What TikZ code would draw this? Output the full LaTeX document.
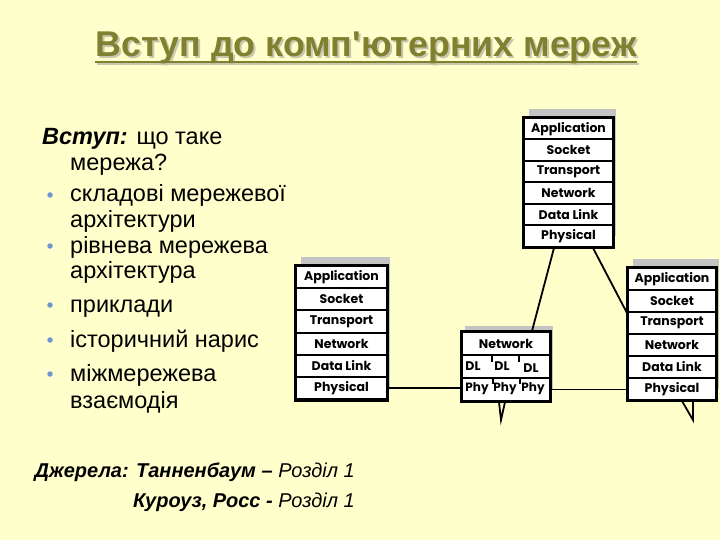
\documentclass[tikz,border=0pt]{standalone}
\usepackage{fontspec}
\setmainfont{Liberation Sans}
\newfontfamily\stackfont{Poppins}
\usetikzlibrary{calc}
\definecolor{bg}{RGB}{255,255,204}
\definecolor{olivetitle}{RGB}{128,128,48}
\definecolor{tshadow}{RGB}{200,200,176}
\definecolor{bul}{RGB}{110,150,210}
\definecolor{stackshadow}{RGB}{196,196,196}
\newcommand\netstack[5]{%
  \fill[stackshadow] (#2+6,#3-8) rectangle (#2+#4+4,#3+6*#5-10);
  \foreach \n/\t [count=\i from 0] in {app/Application,soc/Socket,tra/Transport,net/Network,dl/Data Link,phy/Physical}{
    \node[layer, minimum width=#4, minimum height=#5] (#1-\n) at (#2,#3+\i*#5) {\t};
  }
  \draw[line width=2.6pt] (#1-app.north west) rectangle (#1-phy.south east);
}
\begin{document}
\begin{tikzpicture}[x=1pt,y=-1pt,
  layer/.style={draw=black, line width=2pt, fill=white, rectangle, anchor=north west, inner sep=0pt,
    font=\stackfont\bfseries\fontsize{12.5}{13}\selectfont},
  lbl/.style={inner sep=0pt, font=\stackfont\bfseries\fontsize{12.5}{13}\selectfont},
  conn/.style={draw=black, line width=1.8pt},
  txt/.style={inner sep=0pt, anchor=base west, font=\fontsize{23.5}{25}\selectfont},
  src/.style={inner sep=0pt, anchor=base east, font=\fontsize{20}{22}\selectfont},
  bullet/.style={circle, fill=bul, inner sep=0pt, minimum size=5.5pt},
  tick/.style={draw=black, line width=1.6pt}]
\useasboundingbox (0,0) rectangle (720,540);
\fill[bg] (0,0) rectangle (720,540);

% title
\node[inner sep=0pt, anchor=base, text=tshadow, font=\bfseries\fontsize{35.8}{38}\selectfont] (titlesh) at (368,59) {Вступ до комп\textquotesingle ютерних мереж};
\draw[tshadow, line width=2.5pt] ($(titlesh.base west)+(0,5)$) -- ($(titlesh.base east)+(0,5)$);
\node[inner sep=0pt, anchor=base, text=olivetitle, font=\bfseries\fontsize{35.8}{38}\selectfont] (title) at (366,57) {Вступ до комп\textquotesingle ютерних мереж};
\draw[olivetitle, line width=2.5pt] ($(title.base west)+(0,5)$) -- ($(title.base east)+(0,5)$);

% left text
\node[txt] (l1) at (42,145) {\textbf{\textit{Вступ:}} що таке};
\node[txt] (l2) at (70,171) {мережа?};
\node[bullet] (b1) at (50,195) {};
\node[txt] (l3) at (70,202) {складові мережевої};
\node[txt] (l4) at (70,227) {архітектури};
\node[bullet] (b2) at (50,246) {};
\node[txt] (l5) at (70,253) {рівнева мережева};
\node[txt] (l6) at (70,278) {архітектура};
\node[bullet] (b3) at (50,305) {};
\node[txt] (l7) at (70,312) {приклади};
\node[bullet] (b4) at (50,340) {};
\node[txt] (l8) at (70,347) {історичний нарис};
\node[bullet] (b5) at (50,374) {};
\node[txt] (l9) at (70,381) {міжмережева};
\node[txt] (l10) at (70,408) {взаємодія};

% sources
\node[src] (s1) at (355,477) {\textbf{\textit{Джерела: Танненбаум –}} \textit{Розділ 1}};
\node[src] (s2) at (355,507) {\textbf{\textit{Куроуз, Росс -}} \textit{Розділ 1}};

% stacks
\netstack{T}{523}{117}{89}{21.5}
\netstack{L}{295}{265}{91}{22.2}
\netstack{R}{627}{267}{88}{22}

% router
\fill[stackshadow] (465,326) rectangle (553,390);
\node[layer, minimum width=88, minimum height=23] (r-net) at (461,331) {Network};
\node[layer, minimum width=88, minimum height=23] (r-dl) at (461,354) {};
\node[layer, minimum width=88, minimum height=23] (r-phy) at (461,377) {};
\draw[line width=2.6pt] (r-net.north west) rectangle (r-phy.south east);
\draw[tick] ($(r-dl.north west)+(31,0)$) -- ++(0,8);
\draw[tick] ($(r-dl.north west)+(58,0)$) -- ++(0,8);
\draw[tick] ($(r-phy.north west)+(32,0)$) -- ++(0,7);
\draw[tick] ($(r-phy.north west)+(59,0)$) -- ++(0,7);
\node[lbl] (dl1) at (473,366) {DL};
\node[lbl] (dl2) at (502,366) {DL};
\node[lbl] (dl3) at (531,368) {DL};
\node[lbl, font=\stackfont\bfseries\fontsize{12}{13}\selectfont] (ph1) at (477,389) {Phy};
\node[lbl, font=\stackfont\bfseries\fontsize{12}{13}\selectfont] (ph2) at (505,389) {Phy};
\node[lbl, font=\stackfont\bfseries\fontsize{12}{13}\selectfont] (ph3) at (533,389) {Phy};

% connectors
\draw[conn] (L-phy.east) -- (L-phy.east -| r-phy.west);
\draw[conn] (r-phy.east) -- (r-phy.east -| R-phy.west);
\coordinate (ta) at ($(T-phy.south west)+(31,0)$);
\coordinate (tb) at ($(T-phy.south west)+(70,0)$);
\coordinate (ra) at ($(r-net.north west)+(71,0)$);
\draw[conn] (ta) -- (ra);
\draw[conn] (tb) -- (R-soc.south west);
\coordinate (v1) at ($(r-phy.south west)+(38,0)$);
\draw[conn] (v1) -- ++(2,18) -- ++(4,-18);
\coordinate (v2) at ($(R-phy.south west)+(55,0)$);
\draw[conn] (v2) -- ++(11,19) -- ++(0,-19);
\end{tikzpicture}
\end{document}
